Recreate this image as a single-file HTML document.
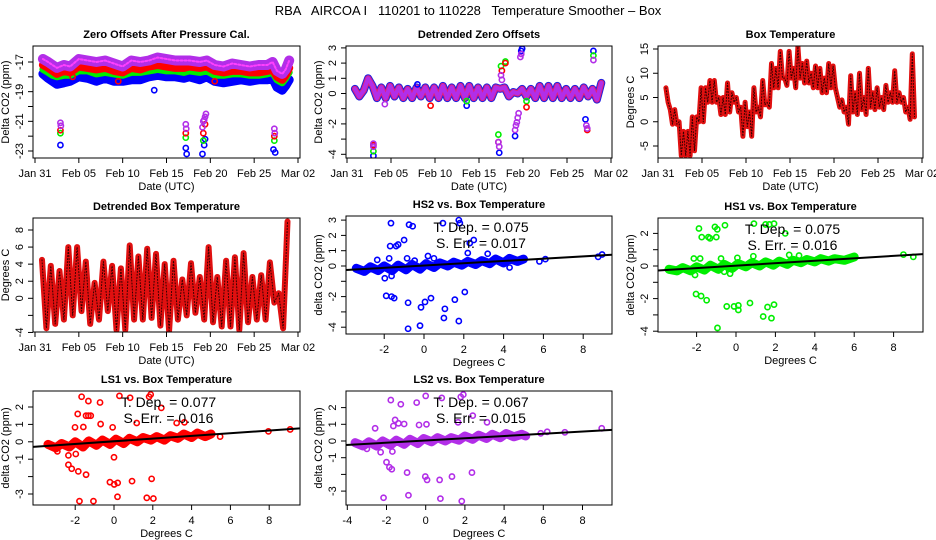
<!DOCTYPE html>
<html><head><meta charset="utf-8"><style>
html,body{margin:0;padding:0;background:#fff;}
svg{display:block;font-family:"Liberation Sans",sans-serif;}
</style></head><body>
<svg id="chart" width="936" height="540" viewBox="0 0 936 540">
<text x="468" y="15" text-anchor="middle" font-size="13" style="white-space:pre" xml:space="preserve">RBA   AIRCOA I   110201 to 110228   Temperature Smoother – Box</text>
</svg>
<script>
// ---------- Panel 1: zero offsets ----------
const zoTimes = [0.9,1.5,2,2.5,3.3,4,5,6,7,8,9,10,11,12,13,14,15,16,17,17.6,18.8,19.6,20.5,21.5,22.5,23.5,24.5,25.5,26.5,27.1,27.6,28.2,28.6,29];
const zoLS2 = [-16.8,-17.0,-17.2,-17.4,-17.2,-17.3,-16.8,-16.9,-17.0,-16.9,-17.1,-17.3,-16.9,-17.0,-16.9,-16.7,-16.8,-16.9,-16.9,-16.9,-17.0,-16.9,-17.2,-17.3,-17.1,-17.2,-17.3,-17.2,-17.2,-17.0,-17.6,-17.8,-17.5,-16.9];
const zoLS1 = [-17.2,-17.4,-17.6,-17.8,-17.6,-17.7,-17.3,-17.4,-17.5,-17.4,-17.6,-17.7,-17.4,-17.5,-17.3,-17.2,-17.3,-17.4,-17.4,-17.3,-17.4,-17.3,-17.6,-17.7,-17.6,-17.6,-17.7,-17.7,-17.6,-17.5,-18.0,-18.2,-17.9,-17.4];
const zoHS1 = [-17.5,-17.7,-17.9,-18.0,-17.9,-17.9,-17.6,-17.6,-17.8,-17.7,-17.8,-17.9,-17.7,-17.7,-17.6,-17.5,-17.6,-17.6,-17.7,-17.6,-17.7,-17.6,-17.9,-17.9,-17.8,-17.8,-17.9,-17.9,-17.8,-17.7,-18.2,-18.4,-18.1,-17.7];
const zoHS2 = [-17.8,-18.1,-18.3,-18.5,-18.4,-18.3,-18.0,-18.1,-18.3,-18.1,-18.3,-18.3,-18.2,-18.2,-18.0,-17.9,-18.0,-18.0,-18.1,-18.0,-18.2,-18.0,-18.3,-18.4,-18.3,-18.2,-18.3,-18.2,-18.2,-18.1,-18.7,-18.9,-18.6,-18.2];
const zoOutHS2T = [2.9,13.6,17.2,17.3,19.1,19.3,19.4,27.2,27.4];
const zoOutHS2V = [-22.6,-18.9,-22.8,-23.2,-23.2,-22.6,-22.2,-22.9,-23.1];
const zoOutHS1T = [2.9,17.2,19.2,27.3];
const zoOutHS1V = [-21.8,-22.1,-22.3,-22.3];
const zoOutLS1T = [2.9,4.3,9.5,17.2,19.2,19.4,20.5,27.3];
const zoOutLS1V = [-21.6,-18.0,-18.3,-21.8,-21.8,-21.2,-18.3,-22.0];
const zoOutLS2T = [2.9,2.95,17.2,17.25,19.1,19.2,19.3,19.4,19.5,27.3,27.35];
const zoOutLS2V = [-21.1,-21.3,-21.2,-21.5,-21.4,-21.0,-20.9,-20.7,-20.5,-21.5,-21.8];
const zoYTicks = [-17,-18,-19,-20,-21,-22,-23];
const zoYLabels = ["-17","","-19","","-21","","-23"];

// ---------- Panel 2: detrended zero offsets ----------
const detStart = 0.9, detStep = 0.5;
const detLS2 = [0.3,-0.2,0.2,1.0,0.5,-0.3,0.4,-0.3,0.5,-0.2,0.4,-0.3,0.3,-0.3,0.4,-0.2,0.4,-0.3,0.4,-0.3,0.5,-0.3,0.4,-0.3,0.5,-0.3,0.5,-0.3,0.4,-0.3,0.4,-0.3,0.4,0.3,0.4,-0.2,0.1,0.0,0.3,-0.2,0.3,-0.3,0.5,-0.3,0.5,-0.3,0.5,-0.3,0.3,-0.3,0.3,-0.3,0.4,-0.2,0.3,-0.4,0.7];
const detOutHS2T = [3.0,8.0,13.6,17.3,19.1,19.8,19.9,27.1,28.0];
const detOutHS2V = [-4.1,0.6,-0.8,-3.9,-2.8,2.8,2.95,-1.7,2.8];
const detOutHS1T = [3.0,13.6,17.2,17.5,18.0,20.4,28.0];
const detOutHS1V = [-3.8,-0.5,-2.7,1.8,2.1,-0.5,2.5];
const detOutLS1T = [3.0,9.5,17.2,17.6,18.0,20.4,27.3];
const detOutLS1V = [-3.4,-0.8,-3.2,1.5,2.0,-0.9,-2.4];
const detOutLS2T = [3.0,3.0,4.3,17.2,17.3,17.5,17.6,19.1,19.2,19.3,19.4,19.5,19.7,19.8,27.2,27.3,28.0];
const detOutLS2V = [-3.3,-3.5,-0.7,-3.2,-3.5,1.2,0.9,-2.4,-2.1,-1.9,-1.6,-1.3,2.4,2.6,-2.1,-2.3,2.2];
const detYTicks = [3,2,1,0,-1,-2,-3,-4];
const detYLabels = ["3","2","1","0","","-2","","-4"];

// ---------- Panel 3: box temperature ----------
const boxStart = 0.9, boxStep = 0.25;
const boxTemp = [7,4,2.5,-0.5,2.5,-0.5,0,-7,-2,-7,-2,-7,1,-6,1,0,7,0,7,4,8.5,4,8.5,4,5,1.5,5,1.5,8,2,6,4,5,2,3,-3,4,-1,2,-3,7,2,3,1,8.5,3.5,4,3,12,7,11,7,14.5,9,9,7.5,14.5,9,11,7,15.5,9,12,8,12.5,8,10,7,11.5,7,11,6,9,6,12,7,11.5,7,5,3,4.5,2,3,-0.5,9.5,2,6,1.5,10,2.5,5,1.5,11,3,6,2.5,7,3,5,2.5,7.5,4,6,4,10.5,4,6,4,5,2,3,0.5,14,1];
const boxYTicks = [15,10,5,0,-5];

// ---------- Panel 4: detrended box temperature ----------
const dbStart = 0.8, dbStep = 0.5;
const dbTemp = [4.5,-3.5,3.8,-3,3.2,-2.5,6,-2,6,-1.5,4.3,-3,1.8,-2.5,4.3,-1.5,3.8,-3.7,3.5,-3.7,6.2,-2.5,4.9,-2.5,5.8,-2.3,5.2,-3.2,4,-3.8,4.4,-2.5,2.2,-2,4.1,-1.7,2.5,-2.5,6,-2.8,2.5,-3.3,4.4,-3.3,4.8,-3.7,5.3,-2.8,2.5,-2.5,2.7,-2.5,4.2,-0.5,0.6,-3.5,9];
const dbYTicks = [8,6,4,2,0,-2,-4];
const dbYLabels = ["8","6","4","2","0","","-4"];

const dateTicks = [0,5,10,15,20,25,30];
const dateLabels = ["Jan 31","Feb 05","Feb 10","Feb 15","Feb 20","Feb 25","Mar 02"];

// ---------- Scatter panels ----------
const hs2ClusterX = [-3.4,-3.0,-2.7,-2.3,-2.0,-1.6,-1.3,-0.9,-0.6,-0.2,0.1,0.5,0.8,1.2,1.5,1.9,2.2,2.6,2.9,3.3,3.6,4.0,4.3,4.7,5.0];
const hs2ClusterY = [-0.15,-0.35,-0.05,-0.3,0.0,-0.3,0.05,-0.25,0.1,-0.2,0.15,-0.1,0.2,0.0,0.25,0.05,0.3,0.1,0.35,0.15,0.45,0.2,0.5,0.3,0.45];
const hs2OutX = [-1.66,-0.75,-0.57,-1.7,-1.4,-1.3,-1.0,-2.35,-1.75,-0.85,-0.47,0.2,0.5,0.95,1.75,1.8,2.3,2.5,2.2,3.2,-1.97,-1.63,-1.9,-1.63,-1.5,-0.8,0.05,0.35,-0.15,1.05,1.55,2.05,1.0,1.75,-0.2,-0.8,4.3,5.8,6.1,8.75,8.95];
const hs2OutY = [2.8,2.7,2.6,1.3,1.3,1.4,1.7,0.4,0.5,0.5,0.35,0.65,0.5,2.8,3.0,2.8,1.5,1.7,0.85,0.8,-0.8,-0.65,-1.95,-2.0,-2.1,-2.4,-2.35,-2.1,-2.7,-2.8,-2.2,-1.7,-3.4,-3.6,-3.9,-4.1,-0.1,0.3,0.45,0.6,0.75];

const hs1ClusterX = [-3.4,-3.0,-2.7,-2.3,-2.0,-1.6,-1.3,-0.9,-0.6,-0.2,0.1,0.5,0.8,1.2,1.5,1.9,2.2,2.6,2.9,3.3,3.6,4.0,4.3,4.7,5.0,5.5,6.0];
const hs1ClusterY = [-0.2,-0.3,-0.1,-0.3,-0.05,-0.25,0.05,-0.2,0.1,-0.15,0.15,-0.05,0.2,0.0,0.25,0.05,0.3,0.1,0.35,0.2,0.4,0.25,0.45,0.3,0.45,0.35,0.55];
const hs1OutX = [-1.88,-1.07,-0.95,-0.56,-1.74,-1.4,-1.32,-1.0,0.91,1.5,1.69,1.93,2.5,-2.14,-1.82,-0.76,0.07,0.88,2.7,3.2,-2.08,-0.6,-0.3,-2.03,-1.77,-1.49,-0.47,-0.1,0.12,0.12,0.71,1.6,1.93,1.38,1.8,-0.94,8.5,9.0];
const hs1OutY = [2.3,2.4,2.25,2.5,1.77,1.77,1.7,1.77,2.6,2.55,2.55,2.6,2.0,0.46,0.46,0.46,0.5,0.6,0.68,0.64,-0.55,-0.35,-0.47,-1.72,-1.84,-2.1,-2.48,-2.48,-2.42,-2.7,-2.27,-2.52,-2.37,-3.1,-3.2,-3.8,0.7,0.56];

const ls1ClusterX = [-3.4,-3.0,-2.7,-2.3,-2.0,-1.6,-1.3,-0.9,-0.6,-0.2,0.1,0.5,0.8,1.2,1.5,1.9,2.2,2.6,2.9,3.3,3.6,4.0,4.3,4.7,5.0];
const ls1ClusterY = [-0.15,-0.35,-0.1,-0.3,0.0,-0.3,0.05,-0.2,0.1,-0.15,0.15,-0.1,0.2,0.0,0.25,0.1,0.3,0.1,0.35,0.2,0.45,0.25,0.5,0.3,0.45];
const ls1OutX = [-1.67,-1.32,-0.72,0.28,0.83,1.81,1.89,2.44,-1.87,-1.44,-1.32,-1.2,-2.01,-1.58,-0.69,-0.07,1.17,3.23,3.63,-2.92,-2.35,-1.97,0.0,-2.35,-2.18,-1.84,-1.44,-0.21,0.01,0.19,0.93,1.94,-1.78,-1.06,0.18,1.69,2.03,5.47,7.96,9.08];
const ls1OutY = [2.59,2.34,2.26,2.64,2.53,2.59,2.72,1.95,1.6,1.5,1.5,1.5,0.83,0.85,1.02,0.83,1.08,1.08,1.12,-0.55,-0.78,-0.7,-0.89,-1.32,-1.55,-1.7,-1.89,-2.32,-2.45,-2.36,-2.26,-2.13,-3.41,-3.41,-3.16,-3.22,-3.26,0.3,0.6,0.71];

const ls2ClusterX = [-3.6,-3.2,-2.9,-2.5,-2.2,-1.8,-1.5,-1.1,-0.8,-0.4,-0.1,0.3,0.6,1.0,1.3,1.7,2.0,2.4,2.7,3.1,3.4,3.8,4.1,4.5,4.9,5.1];
const ls2ClusterY = [-0.1,-0.3,-0.05,-0.3,0.0,-0.25,0.05,-0.2,0.1,-0.15,0.15,-0.05,0.2,0.0,0.2,0.05,0.3,0.1,0.35,0.15,0.4,0.2,0.45,0.25,0.4,0.3];
const ls2OutX = [-1.78,-1.27,-0.46,0.0,0.82,1.79,1.92,-1.56,-1.39,-1.1,-1.65,-0.34,0.04,1.65,2.4,3.13,-2.58,-2.3,-1.7,-3.0,-2.0,-1.85,-1.73,-0.95,-0.02,0.07,0.71,1.34,2.36,-2.15,-0.88,0.75,1.84,5.87,6.2,7.1,8.98];
const ls2OutY = [2.45,2.2,2.3,2.7,2.58,2.64,2.78,1.26,1.06,1.02,0.9,0.96,1.0,1.12,1.52,1.12,0.76,-0.67,-0.63,-0.47,-1.27,-1.57,-1.69,-1.89,-2.13,-2.33,-2.33,-2.13,-1.89,-3.4,-3.25,-3.45,-3.6,0.46,0.55,0.52,0.76];

const slopes = [0.075,0.075,0.077,0.067];
const intercepts = [0.03,0.02,0.03,0.03];
const slopeLabels = ["0.075","0.075","0.077","0.067"];
const errLabels = ["0.017","0.016","0.016","0.015"];

// ---------- drawing helpers ----------
const NS = "http://www.w3.org/2000/svg";
const svg = document.getElementById("chart");
function mk(tag, attrs, parent){
  const e = document.createElementNS(NS, tag);
  for (const k in attrs) e.setAttribute(k, attrs[k]);
  (parent||svg).appendChild(e);
  return e;
}
function linear(d0, p0, d1, p1){ return v => p0 + (v - d0) * (p1 - p0) / (d1 - d0); }

function frame(g, box, title, name){
  const r = mk("rect", {x:box.l, y:box.t, width:box.r-box.l, height:box.b-box.t, fill:"none", stroke:"#000", "stroke-width":1}, g);
  
  
  const t = mk("text", {x:(box.l+box.r)/2, y:box.t-8, "text-anchor":"middle", "font-size":11, "font-weight":"bold"}, g);
  t.textContent = title;
  
  
}
function yAxis(g, box, ys, ticks, labels, title, name){
  const ax = mk("g", {}, g);
  
  
  ticks.forEach((v,i) => {
    const y = ys(v);
    mk("line", {x1:box.l-5, x2:box.l, y1:y, y2:y, stroke:"#000"}, ax);
    if (labels[i] !== "") {
      const t = mk("text", {x:box.l-10, y:y, "text-anchor":"middle", "font-size":11, transform:`rotate(-90 ${box.l-10} ${y})`}, ax);
      t.textContent = labels[i];
      
      
    }
  });
  const cy = (box.t+box.b)/2, cx = box.l-24;
  const tt = mk("text", {x:cx, y:cy, "text-anchor":"middle", "font-size":11, transform:`rotate(-90 ${cx} ${cy})`}, ax);
  tt.textContent = title;
  
  
}
function xAxis(g, box, xs, ticks, labels, title, name){
  const ax = mk("g", {}, g);
  
  
  ticks.forEach((v,i) => {
    const x = xs(v);
    mk("line", {x1:x, x2:x, y1:box.b, y2:box.b+5, stroke:"#000"}, ax);
    const t = mk("text", {x:x, y:box.b+19, "text-anchor":"middle", "font-size":11}, ax);
    t.textContent = labels[i];
    
    
  });
  const tt = mk("text", {x:(box.l+box.r)/2, y:box.b+32, "text-anchor":"middle", "font-size":11}, ax);
  tt.textContent = title;
  
  
}
function clipFor(box, id){
  const cp = mk("clipPath", {id:id});
  mk("rect", {x:box.l, y:box.t, width:box.r-box.l, height:box.b-box.t}, cp);
  return `url(#${id})`;
}
function band(g, xsArr, ysArr, xs, ys, color, width, name){
  const pts = xsArr.map((x,i) => `${xs(x).toFixed(1)},${ys(ysArr[i]).toFixed(1)}`).join(" ");
  const p = mk("polyline", {points:pts, fill:"none", stroke:color, "stroke-width":width, "stroke-linejoin":"round", "stroke-linecap":"round"}, g);
  
  
  return p;
}
function points(g, xsArr, ysArr, xs, ys, color, name){
  const pg = mk("g", {}, g);
  
  
  xsArr.forEach((x,i) => {
    const c = mk("circle", {cx:xs(x), cy:ys(ysArr[i]), r:2.6, fill:"none", stroke:color, "stroke-width":1.6}, pg);
    
    
  });
}
function seqTimes(start, step, n){ const a=[]; for(let i=0;i<n;i++) a.push(start+i*step); return a; }
const PURPLE = "#b22ee8";

// ---------- Panel 1 ----------
(function(){
  const box = {l:33, r:300, t:46, b:158};
  const xs = linear(0,35,30,298), ys = linear(-17,62,-23,151);
  const g = mk("g", {});  
  const cg = mk("g", {"clip-path":clipFor(box,"c1")}, g);
  band(cg, zoTimes, zoHS2, xs, ys, "#0000ff", 9, "hs2-series");
  band(cg, zoTimes, zoHS1, xs, ys, "#00ee00", 7, "hs1-series");
  band(cg, zoTimes, zoLS1, xs, ys, "#ff0000", 8, "ls1-series");
  const lp = band(cg, zoTimes, zoLS2, xs, ys, PURPLE, 10, "ls2-series");
  const ld = band(cg, zoTimes, zoLS2, xs, ys, "#ff40ff", 2, "ls2-series-texture");
  ld.setAttribute("stroke-dasharray","2 2");
  points(cg, zoOutHS2T, zoOutHS2V, xs, ys, "#0000ff", "hs2-outliers");
  points(cg, zoOutHS1T, zoOutHS1V, xs, ys, "#00ee00", "hs1-outliers");
  points(cg, zoOutLS1T, zoOutLS1V, xs, ys, "#ff0000", "ls1-outliers");
  points(cg, zoOutLS2T, zoOutLS2V, xs, ys, PURPLE, "ls2-outliers");
  frame(g, box, "Zero Offsets After Pressure Cal.", "zero-offsets");
  yAxis(g, box, ys, zoYTicks, zoYLabels, "Delta CO2 (ppm)", "zero-offsets");
  xAxis(g, box, xs, dateTicks, dateLabels, "Date (UTC)", "zero-offsets");
})();

// ---------- Panel 2 ----------
(function(){
  const box = {l:346, r:612, t:46, b:158};
  const xs = linear(0,347,30,611), ys = linear(0,93.5,1,78.3);
  const g = mk("g", {});  
  const cg = mk("g", {"clip-path":clipFor(box,"c2")}, g);
  const t = seqTimes(detStart, detStep, detLS2.length);
  band(cg, t, detLS2, xs, ys, "#2020e0", 8, "hs2-detrended-series");
  band(cg, t, detLS2, xs, ys, "#e02080", 6, "ls1-detrended-series");
  band(cg, t, detLS2, xs, ys, PURPLE, 4, "ls2-detrended-series");
  points(cg, detOutHS2T, detOutHS2V, xs, ys, "#0000ff", "hs2-outliers");
  points(cg, detOutHS1T, detOutHS1V, xs, ys, "#00ee00", "hs1-outliers");
  points(cg, detOutLS1T, detOutLS1V, xs, ys, "#ff0000", "ls1-outliers");
  points(cg, detOutLS2T, detOutLS2V, xs, ys, PURPLE, "ls2-outliers");
  frame(g, box, "Detrended Zero Offsets", "detrended-zero-offsets");
  yAxis(g, box, ys, detYTicks, detYLabels, "Delta CO2 (ppm)", "detrended-zero-offsets");
  xAxis(g, box, xs, dateTicks, dateLabels, "Date (UTC)", "detrended-zero-offsets");
})();

// ---------- Panel 3 ----------
(function(){
  const box = {l:658, r:923, t:46, b:158};
  const xs = linear(0,658,30,922), ys = linear(15,49,-5,146);
  const g = mk("g", {});  
  const cg = mk("g", {"clip-path":clipFor(box,"c3")}, g);
  const t = seqTimes(boxStart, boxStep, boxTemp.length);
  band(cg, t, boxTemp, xs, ys, "#e01010", 5, "box-temperature-series");
  const d = band(cg, t, boxTemp, xs, ys, "#300000", 1, "box-temperature-dots");
  d.setAttribute("stroke-dasharray","1 2");
  frame(g, box, "Box Temperature", "box-temperature");
  yAxis(g, box, ys, boxYTicks, boxYTicks.map(String), "Degrees C", "box-temperature");
  xAxis(g, box, xs, dateTicks, dateLabels, "Date (UTC)", "box-temperature");
})();

// ---------- Panel 4 ----------
(function(){
  const box = {l:33, r:300, t:218, b:332};
  const xs = linear(0,35,30,298), ys = linear(0,298.3,8,230);
  const g = mk("g", {});  
  const cg = mk("g", {"clip-path":clipFor(box,"c4")}, g);
  const t = seqTimes(dbStart, dbStep, dbTemp.length);
  band(cg, t, dbTemp, xs, ys, "#e01010", 6, "detrended-temperature-series");
  const d = band(cg, t, dbTemp, xs, ys, "#300000", 1, "detrended-temperature-dots");
  d.setAttribute("stroke-dasharray","1 2");
  frame(g, box, "Detrended Box Temperature", "detrended-box-temperature");
  yAxis(g, box, ys, dbYTicks, dbYLabels, "Degrees C", "detrended-box-temperature");
  xAxis(g, box, xs, dateTicks, dateLabels, "Date (UTC)", "detrended-box-temperature");
})();

// ---------- Scatter panels ----------
const scatterDefs = [
  {name:"hs2-vs-temp", title:"HS2 vs. Box Temperature", box:{l:346,r:612,t:216,b:334}, x0:424, xu:19.9, y0:266, yu:15.3,
   cx:hs2ClusterX, cy:hs2ClusterY, ox:hs2OutX, oy:hs2OutY, color:"#0000ff", xt:[-2,0,2,4,6,8], yt:[3,2,1,0,-1,-2,-3,-4], yl:["3","2","1","0","","-2","","-4"], idx:0},
  {name:"hs1-vs-temp", title:"HS1 vs. Box Temperature", box:{l:658,r:923,t:218,b:332}, x0:736, xu:19.7, y0:266, yu:16.3,
   cx:hs1ClusterX, cy:hs1ClusterY, ox:hs1OutX, oy:hs1OutY, color:"#00ee00", xt:[-2,0,2,4,6,8], yt:[2,1,0,-1,-2,-3,-4], yl:["2","","0","","-2","","-4"], idx:1},
  {name:"ls1-vs-temp", title:"LS1 vs. Box Temperature", box:{l:33,r:300,t:391,b:505}, x0:114, xu:19.4, y0:441.8, yu:17.4,
   cx:ls1ClusterX, cy:ls1ClusterY, ox:ls1OutX, oy:ls1OutY, color:"#ff0000", xt:[-2,0,2,4,6,8], yt:[2,1,0,-1,-2,-3], yl:["2","1","0","-1","","-3"], idx:2},
  {name:"ls2-vs-temp", title:"LS2 vs. Box Temperature", box:{l:346,r:612,t:391,b:505}, x0:425.7, xu:19.6, y0:441, yu:16.7,
   cx:ls2ClusterX, cy:ls2ClusterY, ox:ls2OutX, oy:ls2OutY, color:PURPLE, xt:[-4,-2,0,2,4,6,8], yt:[2,1,0,-1,-2,-3], yl:["2","1","0","-1","","-3"], idx:3}
];
scatterDefs.forEach((s,k) => {
  const box = s.box;
  const xs = linear(0, s.x0, 1, s.x0 + s.xu), ys = linear(0, s.y0, 1, s.y0 - s.yu);
  const g = mk("g", {});  
  const cg = mk("g", {"clip-path":clipFor(box,"cs"+k)}, g);
  band(cg, s.cx, s.cy, xs, ys, s.color, 9, s.name + "-cluster");
  points(cg, s.ox, s.oy, xs, ys, s.color, s.name + "-outliers");
  const xa = (box.l - s.x0) / s.xu, xb = (box.r - s.x0) / s.xu;
  const m = slopes[s.idx], c = intercepts[s.idx];
  const rl = mk("line", {x1:xs(xa), y1:ys(c + m*xa), x2:xs(xb), y2:ys(c + m*xb), stroke:"#000", "stroke-width":2}, cg);
  
  
  const cxm = (box.l + box.r) / 2 + 2;
  const t1 = mk("text", {x:cxm, y:box.t+16, "text-anchor":"middle", "font-size":14}, g);
  t1.textContent = "T. Dep. =  " + slopeLabels[s.idx];
  
  
  const t2 = mk("text", {x:cxm, y:box.t+32, "text-anchor":"middle", "font-size":14}, g);
  t2.textContent = "S. Err. =  " + errLabels[s.idx];
  
  
  frame(g, box, s.title, s.name);
  yAxis(g, box, ys, s.yt, s.yl, "delta CO2 (ppm)", s.name);
  xAxis(g, box, xs, s.xt, s.xt.map(String), "Degrees C", s.name);
});
</script>
</body></html>
